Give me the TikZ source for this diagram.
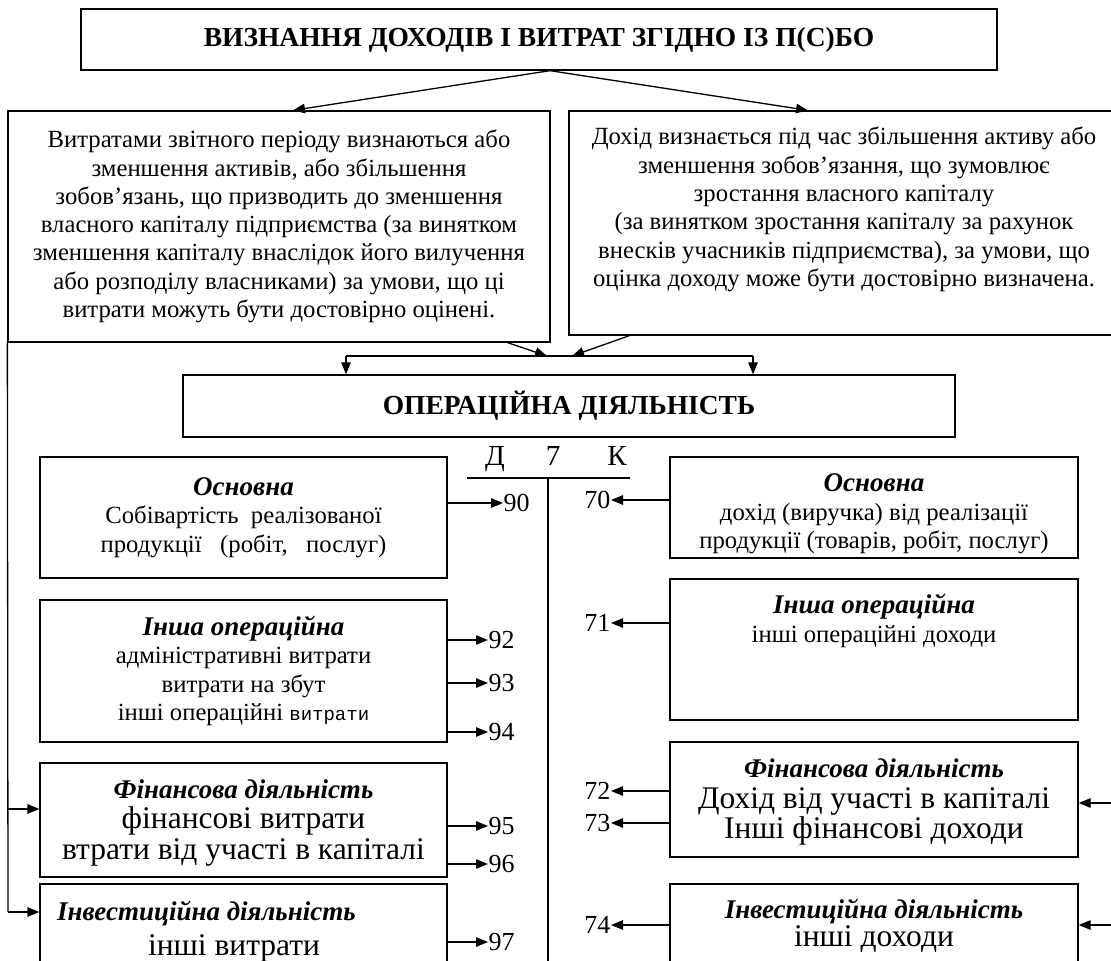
\documentclass[tikz,border=0pt]{standalone}
\usepackage{fontspec}
\setmainfont{Liberation Serif}
\newfontfamily\typewr{Liberation Mono}
\usetikzlibrary{positioning,arrows.meta,calc}
\newcommand\bihead[1]{{\fontsize{27}{28.3}\selectfont\bfseries\itshape #1}}
\newcommand\bigt{\fontsize{31.5}{30}\selectfont}
\tikzset{
    box/.style={draw,line width=1.3pt,rectangle,inner sep=0pt},
    txt/.style={align=center,font=\fontsize{24.7}{28.3}\selectfont,inner sep=0pt},
    bigtxt/.style={txt,font=\fontsize{24.7}{30.5}\selectfont},
    head/.style={font=\fontsize{27.5}{30}\selectfont\bfseries},
    line/.style={line width=1.3pt},
    flow/.style={line width=1.3pt,-{Triangle[length=12pt,width=9.5pt]}},
    num/.style={font=\fontsize{26}{28}\selectfont,inner sep=0.5pt},
    tlab/.style={font=\fontsize{29}{30}\selectfont,inner sep=0pt,anchor=base},
}

\begin{document}
\begin{tikzpicture}[x=1pt,y=-1pt]
    \useasboundingbox (0,0) rectangle (1111,961);
    % title and the two definitions
    \node[box,head,minimum width=916pt,minimum height=61pt] (title) at (539,39.5) {ВИЗНАННЯ ДОХОДІВ І ВИТРАТ ЗГІДНО ІЗ П(С)БО};
    \node[box,txt,minimum width=542pt,minimum height=231pt] (vytr) at (279,226.5) {Витратами звітного періоду визнаються або\\зменшення активів, або збільшення\\зобов’язань, що призводить до зменшення\\власного капіталу підприємства (за винятком\\зменшення капіталу внаслідок його вилучення\\або розподілу власниками) за умови, що ці\\витрати можуть бути достовірно оцінені.};
    \node[box,minimum width=546pt,minimum height=224pt] (dohid) at (842,223) {};
    \node[txt,anchor=north] (dohidtxt) at (844,127) {Дохід визнається під час збільшення активу або\\зменшення зобов’язання, що зумовлює\\зростання власного капіталу\\(за винятком зростання капіталу за рахунок\\внесків учасників підприємства), за умови, що\\оцінка доходу може бути достовірно визначена.};
    \draw[flow] ([xshift=11pt]title.south) -- ([xshift=14pt]vytr.north);
    \draw[flow] ([xshift=11pt]title.south) -- ([xshift=-34pt]dohid.north);

    % operating activity
    \node[box,head,minimum width=772pt,minimum height=62pt] (op) at (569,406) {ОПЕРАЦІЙНА ДІЯЛЬНІСТЬ};
    \coordinate (jl) at (547,356);
    \coordinate (jr) at (572,356);
    \coordinate (dl) at (346,356);
    \coordinate (dr) at (753,356);
    \draw[flow] ([xshift=-43pt]vytr.south east) -- (jl);
    \draw[flow] ([xshift=61pt]dohid.south west) -- (jr);
    \draw[line] (dl) -- (dr);
    \draw[flow] (dl) -- (dl |- op.north);
    \draw[flow] (dr) -- (dr |- op.north);

    % account 7
    \node[tlab] (deb) at (495,465) {Д};
    \node[tlab] (acc) at (553,465) {7};
    \node[tlab] (cred) at (617,465) {К};
    \coordinate (tl) at (467,478);
    \coordinate (tr) at (630,478);
    \coordinate (tt) at (548,478);
    \coordinate (tb) at (548,970);
    \draw[line] (tl) -- (tr);
    \draw[line] (tt) -- (tb);

    % expenses
    \node[box,txt,minimum width=407pt,minimum height=121pt] (osnL) at (243.5,517.5) {\bihead{Основна}\\Собівартість\ \ реалізованої\\продукції\ \ \ (робіт,\ \ \ послуг)};
    \node[box,txt,minimum width=407pt,minimum height=142pt] (inshL) at (243.5,671) {\bihead{Інша операційна}\\адміністративні витрати\\витрати на збут\\інші операційні\ {\typewr\fontsize{19}{28}\selectfont витрати}};
    \node[box,minimum width=407pt,minimum height=114pt] (finL) at (243.5,820) {};
    \node[bigtxt] (finLt) at (243.5,823) {\bihead{Фінансова діяльність}\\{\bigt фінансові витрати}\\{\bigt втрати від участі в капіталі}};
    \node[box,minimum width=407pt,minimum height=91pt] (invL) at (243.5,929.5) {};
    \node[txt,anchor=west] (invLh) at (57,913) {\bihead{Інвестиційна діяльність}};
    \node[txt,font=\bigt] (invLt) at (234,948) {інші витрати};

    \node[num,anchor=west] (n90) at (503,503) {90};
    \draw[flow] (osnL.east |- n90) -- (n90);
    \foreach \n/\y in {92/640,93/683,94/732,95/826,96/864,97/942}{
        \node[num,anchor=west] (n\n) at (488,\y) {\n};
        \draw[flow] (osnL.east |- n\n) -- (n\n);
    }

    % revenues
    \node[box,minimum width=408pt,minimum height=101pt] (osnR) at (874,507.5) {};
    \node[txt] (osnRt) at (874,514) {\bihead{Основна}\\дохід (виручка) від реалізації\\продукції (товарів, робіт, послуг)};
    \node[box,minimum width=408pt,minimum height=141pt] (inshR) at (874,649.5) {};
    \node[txt] (inshRt) at (874,621) {\bihead{Інша операційна}\\інші операційні доходи};
    \node[box,minimum width=408pt,minimum height=115pt] (finR) at (874,799.5) {};
    \node[bigtxt] (finRt) at (874,802) {\bihead{Фінансова діяльність}\\{\bigt Дохід від участі в капіталі}\\{\bigt Інші фінансові доходи}};
    \node[box,minimum width=408pt,minimum height=91pt] (invR) at (874,929.5) {};
    \node[txt] (invRt) at (874,926) {\bihead{Інвестиційна діяльність}\\{\bigt інші доходи}};

    \foreach \n/\y in {70/500,71/623,72/791,73/823,74/925}{
        \node[num,anchor=east] (n\n) at (611,\y) {\n};
        \draw[flow] (osnR.west |- n\n) -- (n\n);
    }

    % feeds from the definitions
    \coordinate (f1) at (8,809);
    \coordinate (f2) at (8,912);
    \draw[line] (vytr.south west) -- (f2);
    \draw[flow] (f1) -- (f1 -| finL.west);
    \draw[flow] (f2) -- (f2 -| invL.west);
    \coordinate (e1) at (1125,803);
    \coordinate (e2) at (1125,925);
    \draw[flow] (e1) -- (e1 -| finR.east);
    \draw[flow] (e2) -- (e2 -| invR.east);
\end{tikzpicture}
\end{document}
